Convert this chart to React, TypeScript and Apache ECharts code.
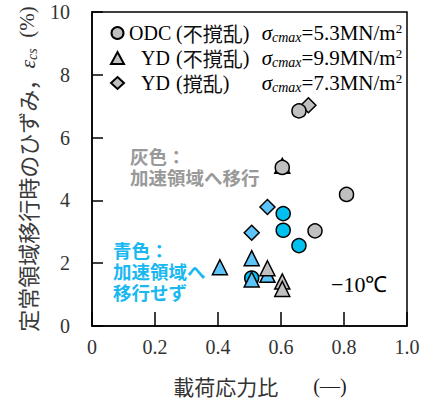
import React, { useEffect, useRef } from "react";
import * as echarts from "echarts";

const xTicks = [0, 0.2, 0.4, 0.6, 0.8, 1.0];
const yTicks = [0, 2, 4, 6, 8, 10];

const odcGray = [[0.657, 6.85], [0.604, 5.05], [0.808, 4.19], [0.708, 3.03]];
const odcBlue = [[0.607, 3.58], [0.607, 3.05], [0.657, 2.56], [0.507, 1.53]];
const ydUndGray = [[0.557, 1.84], [0.604, 1.42], [0.604, 1.18]];
const ydUndBlue = [[0.604, 5.1], [0.406, 1.87], [0.507, 2.16], [0.507, 1.48], [0.557, 1.63]];
const ydDisGray = [[0.687, 7.03]];
const ydDisBlue = [[0.557, 3.79], [0.507, 2.97]];

const legendNames = ["ODC", "YD1", "YD2"];
const legendLabels = {
  ODC: { n: "ODC", k: "不撹乱", v: "=5.3MN/m" },
  YD1: { n: "YD", k: "不撹乱", v: "=9.9MN/m" },
  YD2: { n: "YD", k: "撹乱", v: "=7.3MN/m" },
};

const GRAY = "#c0c0c0";
const CYAN = "#00c0f0";
const LBLUE = "#5cc4f8";
const SERIF = "'Liberation Serif', 'Times New Roman', serif";
const CJK = "'Noto Sans CJK JP', sans-serif";

export default function App() {
  const ref = useRef<HTMLDivElement>(null);
  useEffect(() => {
    if (!ref.current) return;
    const chart = echarts.init(ref.current, null, { renderer: "svg" });
    const border = { color: "#000", width: 1.5 };
    const mk = (name: string, data: number[][], symbol: string, color: string, size: number) => ({
      name,
      type: "scatter",
      data,
      symbol,
      symbolSize: size,
      itemStyle: { color, borderColor: "#000", borderWidth: 1.5, opacity: 1 },
      z: 3,
    });
    const lh = 22;
    const tickRich = { t: { fontFamily: SERIF, fontSize: 20, color: "#333" } };
    chart.setOption({
      animation: false,
      grid: { left: 92, right: 28, top: 12, bottom: 71, show: true, borderColor: "#000", borderWidth: 1.5 },
      legend: {
        data: legendNames,
        orient: "vertical",
        left: 105,
        top: 17,
        itemWidth: 13,
        itemHeight: 12,
        itemGap: 3,
        selectedMode: false,
        formatter: (name: string) => {
          const l = (legendLabels as any)[name];
          const nTok = name === "ODC" ? "n1" : "n2";
          const rTok = name === "YD2" ? "rp3" : "rp1";
          return `{${nTok}|${l.n}}{lp|(}{k|${l.k}}{${rTok}|)}{s|σ}{c|cmax}{v|${l.v}}{u|2}`;
        },
        textStyle: {
          color: "#000",
          fontFamily: SERIF,
          fontSize: 20,
          rich: {
            n1: { fontFamily: SERIF, fontSize: 20, width: 47, lineHeight: lh },
            n2: { fontFamily: SERIF, fontSize: 20, width: 35, padding: [0, 0, 0, 12], lineHeight: lh },
            lp: { fontFamily: SERIF, fontSize: 20, lineHeight: lh },
            k: { fontFamily: CJK, fontSize: 20, lineHeight: lh, color: "#111" },
            rp1: { fontFamily: SERIF, fontSize: 20, width: 19, lineHeight: lh },
            rp3: { fontFamily: SERIF, fontSize: 20, width: 39, lineHeight: lh },
            s: { fontFamily: SERIF, fontStyle: "italic", fontSize: 21, lineHeight: lh },
            c: { fontFamily: SERIF, fontStyle: "italic", fontSize: 14, lineHeight: 14, verticalAlign: "bottom" },
            v: { fontFamily: SERIF, fontSize: 21, lineHeight: lh },
            u: { fontFamily: SERIF, fontSize: 13, lineHeight: 13, verticalAlign: "top" },
          },
        },
      },
      xAxis: {
        type: "value",
        min: 0,
        max: 1,
        interval: 0.2,
        axisLine: { show: true, lineStyle: border },
        axisTick: { show: true, inside: true, length: 14, lineStyle: border },
        splitLine: { show: false },
        axisLabel: {
          margin: 11,
          color: "#333",
          fontFamily: SERIF,
          fontSize: 20,
          formatter: (v: number) => `{t|${v === 0 ? "0" : v.toFixed(1)}}`,
          rich: tickRich,
        },
        name: "{a|載荷応力比}{b|(—)}",
        nameLocation: "middle",
        nameGap: 49,
        nameTextStyle: {
          rich: {
            a: { fontFamily: CJK, fontSize: 21, color: "#333", padding: [0, 0, 0, 21] },
            b: { fontFamily: SERIF, fontSize: 20, color: "#222", padding: [0, 0, 0, 35] },
          },
        },
      },
      yAxis: {
        type: "value",
        min: 0,
        max: 10,
        interval: 2,
        axisLine: { show: true, lineStyle: border },
        axisTick: { show: true, inside: true, length: 11, lineStyle: border },
        splitLine: { show: false },
        axisLabel: {
          margin: 22,
          color: "#333",
          fontFamily: SERIF,
          fontSize: 20,
          formatter: (v: number) => `{t|${v}}`,
          rich: tickRich,
        },
        name: "{a|定常領域移行時のひずみ，}{e|ε}{s|cs}{b|  (%)}",
        nameLocation: "middle",
        nameGap: 49,
        nameRotate: 90,
        nameTextStyle: {
          color: "#333",
          rich: {
            a: { fontFamily: CJK, fontSize: 22, color: "#3a3a3a", lineHeight: 24 },
            e: { fontFamily: SERIF, fontStyle: "italic", fontSize: 22, color: "#333", lineHeight: 24 },
            s: { fontFamily: SERIF, fontStyle: "italic", fontSize: 14, color: "#333", lineHeight: 14, verticalAlign: "bottom" },
            b: { fontFamily: SERIF, fontSize: 21, color: "#333", lineHeight: 24 },
          },
        },
      },
      graphic: [
        {
          type: "text",
          left: 130,
          top: 145,
          style: { text: "灰色：\n加速領域へ移行", fill: "#999", fontFamily: CJK, fontSize: 18.5, fontWeight: "bold", lineHeight: 21.5 },
        },
        {
          type: "text",
          left: 113,
          top: 239,
          style: { text: "青色：\n加速領域へ\n移行せず", fill: "#1ab8f0", fontFamily: CJK, fontSize: 18.5, fontWeight: "bold", lineHeight: 21 },
        },
        {
          type: "text",
          left: 331,
          top: 273,
          style: {
            text: "{m|−10}{c|℃}",
            rich: {
              m: { fontFamily: SERIF, fontSize: 22, fill: "#000" },
              c: { fontFamily: SERIF, fontSize: 22, fill: "#000" },
            },
          },
        },
      ],
      series: [
        mk("YD2", ydDisGray, "diamond", GRAY, 15),
        mk("YD2b", ydDisBlue, "diamond", LBLUE, 15),
        mk("ODCb", odcBlue, "circle", CYAN, 14),
        mk("YD1b", ydUndBlue, "triangle", LBLUE, 15),
        mk("YD1", ydUndGray, "triangle", GRAY, 15),
        mk("ODC", odcGray, "circle", GRAY, 14),
      ],
    });
    return () => chart.dispose();
  }, []);
  return <div ref={ref} style={{ width: 435, height: 401, position: "absolute", left: 0, top: 0 }} />;
}
